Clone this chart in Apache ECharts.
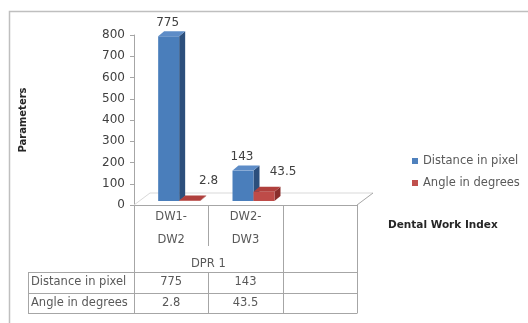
<!DOCTYPE html>
<html>
<head>
<meta charset="utf-8">
<script src="https://cdn.jsdelivr.net/npm/echarts@6/dist/echarts.min.js"></script>
<style>html,body{margin:0;padding:0;background:#fff}#c{width:528px;height:323px}</style>
</head>
<body>
<div id="c"></div>
<script>
// ---- data ----
const categories = ['DW1-\nDW2', 'DW2-\nDW3', ''];
const groupLabel = 'DPR 1';
const seriesNames = ['Distance in pixel', 'Angle in degrees'];
const distance = [775, 143];
const angle = [2.8, 43.5];
const yAxisTitle = 'Parameters';
const xAxisTitle = 'Dental Work Index';

// ---- layout / style ----
const FONT = '"DejaVu Sans", sans-serif';
const FS = 11.5;
const TXT = '#595959';
const LINE = '#a6a6a6';
const gridLeft = 134, gridRight = 357, gridTop = 35, axisY = 205;
const band = (gridRight - gridLeft) / categories.length;
const tableLeft = 28, rowTop = 272, rowH = 20.5;
const depthX = 8, depthY = -4;      // bars sit mid-depth of the 3D floor
const floorX = 16, floorY = -12;    // full floor depth
const barW = 21, sideX = 6, sideY = -5;
const colors = [
  {front: '#4a7ebb', side: '#2c4f7c', top: '#5d8cc7'},
  {front: '#be4b48', side: '#8a2e2c', top: '#b0403d'}
];
const labelOffset = [{dx: -1, dy: -13.5}, {dx: 19, dy: -20}];

function bar3d(sIdx) {
  return function (params, api) {
    const cat = api.value(0), v = api.value(1);
    const p0 = api.coord([cat, 0]);
    const p1 = api.coord([cat, v]);
    const x0 = p0[0] + depthX - (sIdx === 0 ? barW : 0);
    const yb = p0[1] + depthY, yt = p1[1] + depthY;
    const c = colors[sIdx];
    const lo = labelOffset[sIdx];
    return {
      type: 'group',
      children: [
        {type: 'polygon', shape: {points: [[x0 + barW, yt], [x0 + barW + sideX, yt + sideY], [x0 + barW + sideX, yb + sideY], [x0 + barW, yb]]}, style: {fill: c.side}},
        {type: 'rect', shape: {x: x0, y: yt, width: barW, height: Math.max(yb - yt, 0.5)}, style: {fill: c.front}},
        {type: 'polygon', shape: {points: [[x0, yt], [x0 + sideX, yt + sideY], [x0 + barW + sideX, yt + sideY], [x0 + barW, yt]]}, style: {fill: c.top}},
        {type: 'text', style: {text: String(v), x: x0 + barW / 2 + lo.dx, y: yt + lo.dy, align: 'center', verticalAlign: 'middle', fill: '#404040', font: '12px ' + FONT}}
      ]
    };
  };
}

function floorItem(params, api) {
  const cs = params.coordSys;
  const fx = cs.x, fy = cs.y + cs.height, fr = cs.x + cs.width;
  return {
    type: 'group',
    children: [
      {type: 'polyline', shape: {points: [[fx, fy], [fx + floorX, fy + floorY], [fr + floorX, fy + floorY]]}, style: {stroke: '#d9d9d9', lineWidth: 1, fill: null}},
      {type: 'line', shape: {x1: fr, y1: fy, x2: fr + floorX, y2: fy + floorY}, style: {stroke: LINE, lineWidth: 1}}
    ]
  };
}

// ---- table graphics ----
const g = [];
const tableBottom = rowTop + rowH * 2;
g.push({type: 'rect', left: 7, top: 9, shape: {x: 0, y: 0, width: 540, height: 340}, style: {fill: null, stroke: '#bfbfbf', lineWidth: 1.5}, silent: true});
for (let i = 0; i <= categories.length; i++) {
  const x = Math.round(gridLeft + i * band) + 0.5;
  if (i === 1) {
    g.push({type: 'line', shape: {x1: x, y1: axisY, x2: x, y2: 246}, style: {stroke: LINE}});
    g.push({type: 'line', shape: {x1: x, y1: rowTop, x2: x, y2: tableBottom}, style: {stroke: LINE}});
  } else {
    g.push({type: 'line', shape: {x1: x, y1: axisY, x2: x, y2: tableBottom}, style: {stroke: LINE}});
  }
}
g.push({type: 'line', shape: {x1: tableLeft + 0.5, y1: rowTop, x2: tableLeft + 0.5, y2: tableBottom}, style: {stroke: LINE}});
for (let r = 0; r <= 2; r++) {
  const y = Math.round(rowTop + r * rowH) + 0.5;
  g.push({type: 'line', shape: {x1: tableLeft, y1: y, x2: gridRight + 0.5, y2: y}, style: {stroke: LINE}});
}
g.push({type: 'text', style: {text: groupLabel, x: gridLeft + band, y: 264, align: 'center', verticalAlign: 'middle', fill: TXT, font: FS + 'px ' + FONT}});
const rows = [distance, angle];
rows.forEach((vals, r) => {
  const cy = rowTop + r * rowH + rowH / 2;
  g.push({type: 'text', style: {text: seriesNames[r], x: tableLeft + 3, y: cy, align: 'left', verticalAlign: 'middle', fill: TXT, font: FS + 'px ' + FONT}});
  vals.forEach((v, i) => {
    g.push({type: 'text', style: {text: String(v), x: gridLeft + band * (i + 0.5), y: cy, align: 'center', verticalAlign: 'middle', fill: TXT, font: FS + 'px ' + FONT}});
  });
});

const chart = echarts.init(document.getElementById('c'), null, {renderer: 'canvas'});
chart.setOption({
  backgroundColor: '#fff',
  animation: false,
  textStyle: {fontFamily: FONT},
  grid: {left: gridLeft, top: gridTop, width: gridRight - gridLeft, height: axisY - gridTop, containLabel: false, outerBoundsMode: 'none'},
  legend: {
    data: seriesNames, orient: 'vertical', left: 407, top: 150,
    icon: 'rect', itemWidth: 6, itemHeight: 6, itemGap: 10,
    textStyle: {fontSize: FS, color: TXT, fontFamily: FONT}
  },
  xAxis: {
    type: 'category', data: categories,
    axisLine: {lineStyle: {color: LINE}},
    axisTick: {show: false},
    axisLabel: {color: TXT, fontSize: FS, lineHeight: 23, margin: 1, fontFamily: FONT, interval: 0},
    name: xAxisTitle, nameLocation: 'end', nameGap: 31,
    nameTextStyle: {fontWeight: 'bold', fontSize: 10.5, color: '#262626', align: 'left', verticalAlign: 'top', padding: [15, 0, 0, 0], fontFamily: FONT}
  },
  yAxis: {
    type: 'value', min: 0, max: 800, interval: 100,
    axisLine: {show: true, lineStyle: {color: LINE}},
    axisTick: {show: true, length: 4, lineStyle: {color: LINE}},
    splitLine: {show: false},
    axisLabel: {color: '#404040', fontSize: 12, margin: 9, fontFamily: FONT},
    name: yAxisTitle, nameLocation: 'middle', nameGap: 106, nameRotate: 90,
    nameTextStyle: {fontWeight: 'bold', fontSize: 10, color: '#262626', fontFamily: FONT}
  },
  series: [
    {type: 'custom', name: 'floor', silent: true, z: 1, renderItem: floorItem, data: [[0, 0]]},
    {type: 'custom', name: seriesNames[0], z: 2, itemStyle: {color: '#4f81bd'}, renderItem: bar3d(0), data: distance.map((v, i) => [i, v])},
    {type: 'custom', name: seriesNames[1], z: 3, itemStyle: {color: '#c0504d'}, renderItem: bar3d(1), data: angle.map((v, i) => [i, v])}
  ],
  graphic: g
});
</script>
</body>
</html>
